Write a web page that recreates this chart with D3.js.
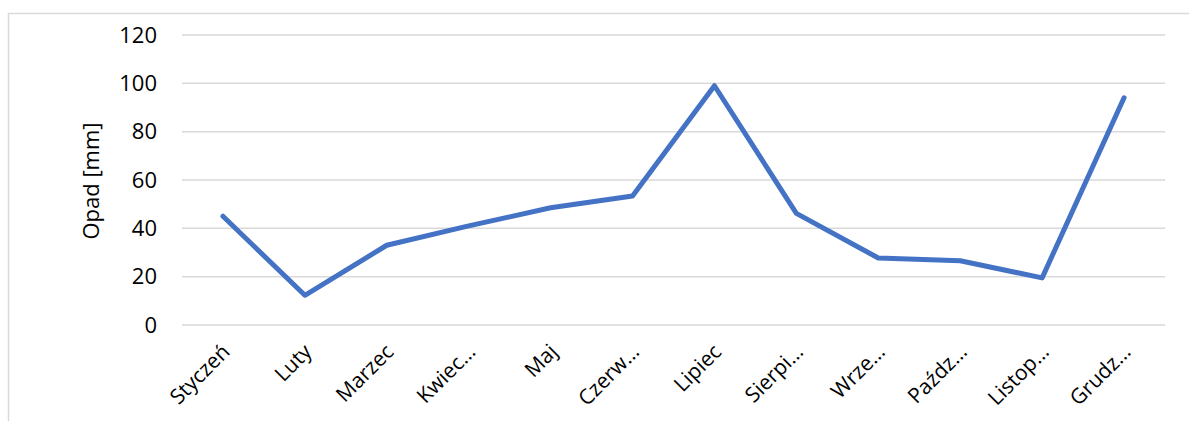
<!DOCTYPE html>
<html>
<head>
<meta charset="utf-8">
<script src="https://cdn.jsdelivr.net/npm/d3@7"></script>
<style>
  body { margin: 0; background: #fff; }
  text { font-family: "Open Sans", sans-serif; fill: #000; }
</style>
</head>
<body>
<script>
var width = 1189,
  height = 421;

const months = ["Styczeń", "Luty", "Marzec", "Kwiecień", "Maj", "Czerwiec",
  "Lipiec", "Sierpień", "Wrzesień", "Październik", "Listopad", "Grudzień"];
const monthLabels = ["Styczeń", "Luty", "Marzec", "Kwiec…", "Maj", "Czerw…",
  "Lipiec", "Sierpi…", "Wrze…", "Paźdz…", "Listop…", "Grudz…"];
const opad = [45, 12.3, 33, 41, 48.5, 53.4, 99, 46.2, 27.7, 26.6, 19.5, 94];
const yTicks = [0, 20, 40, 60, 80, 100, 120];

const svg = d3.select("body").append("svg")
  .attr("width", width)
  .attr("height", height);

// chart frame
svg.append("rect")
  .attr("x", 8.5).attr("y", 13.5)
  .attr("width", width).attr("height", height)
  .attr("fill", "none")
  .attr("stroke", "#d9d9d9")
  .attr("stroke-width", 1.5);

const x = d3.scaleBand().domain(months).range([182, 1165]);
const y = d3.scaleLinear().domain([0, 120]).range([325, 35]);

// gridlines
svg.append("g")
  .selectAll("line")
  .data(yTicks)
  .enter()
  .append("line")
  .attr("x1", 182).attr("x2", 1165)
  .attr("y1", d => y(d)).attr("y2", d => y(d))
  .attr("stroke", "#d9d9d9")
  .attr("stroke-width", 1.5);

// y axis labels
const yAxis = d3.axisLeft(y).tickValues(yTicks).tickSize(0).tickPadding(0);
const gy = svg.append("g").attr("transform", "translate(157,0)").call(yAxis);
gy.select(".domain").remove();
gy.selectAll("text")
  .attr("font-size", 22)
  .attr("font-family", "Open Sans, sans-serif")
  .attr("fill", "#000");

// x axis labels
const xAxis = d3.axisBottom(x).tickSize(0).tickFormat((d, i) => monthLabels[i]);
const gx = svg.append("g").attr("transform", "translate(0,336)").call(xAxis);
gx.select(".domain").remove();
gx.selectAll("text")
  .attr("font-size", 21)
  .attr("font-family", "Open Sans, sans-serif")
  .attr("fill", "#000")
  .attr("text-anchor", "end")
  .attr("dy", 0)
  .attr("transform", "translate(6,15) rotate(-45)");

// y axis title
svg.append("text")
  .attr("transform", "translate(99,181) rotate(-90)")
  .attr("text-anchor", "middle")
  .attr("font-size", 22)
  .text("Opad [mm]");

// line
const line = d3.line()
  .x((d, i) => x(months[i]) + x.bandwidth() / 2)
  .y(d => y(d));

svg.append("path")
  .datum(opad)
  .attr("d", line)
  .attr("fill", "none")
  .attr("stroke", "#4472C4")
  .attr("stroke-width", 5)
  .attr("stroke-linejoin", "round")
  .attr("stroke-linecap", "round");
</script>
</body>
</html>
